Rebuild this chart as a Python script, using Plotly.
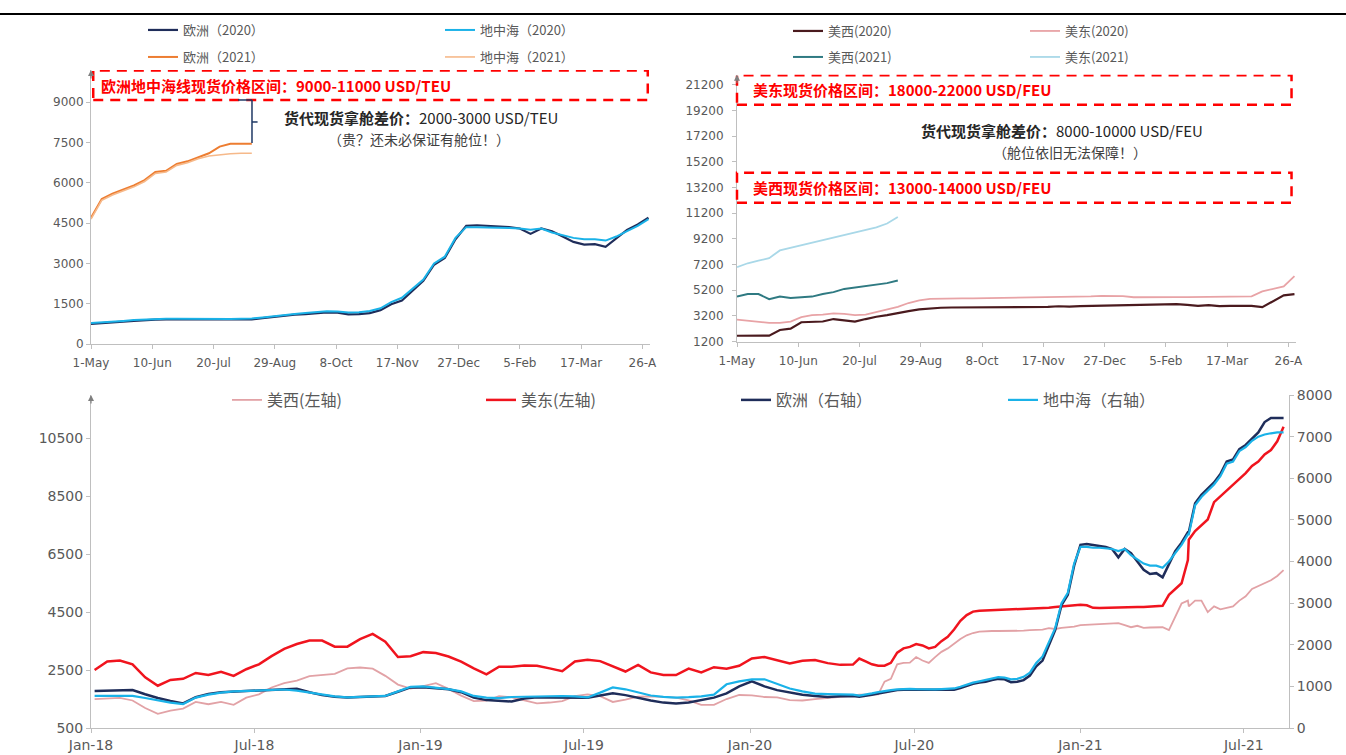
import pandas as pd
import plotly.graph_objects as go

# ---------------- data ----------------
# top charts: weekly, 1-May .. 30-Apr
week_dates = pd.date_range("2020-05-01", periods=53, freq="7D")
dates_2021 = pd.date_range("2021-05-01", periods=16, freq="7D")
top_tickvals = pd.date_range("2020-05-01", periods=10, freq="40D")
top_ticktext = ["1-May", "10-Jun", "20-Jul", "29-Aug", "8-Oct", "17-Nov",
                "27-Dec", "5-Feb", "17-Mar", "26-A"]

eu_2020 = [750, 770, 800, 830, 860, 890, 910, 920, 920, 915,
           905, 905, 905, 910, 910, 920, 960, 1010, 1060, 1090,
           1110, 1150, 1180, 1170, 1100, 1110, 1150, 1260, 1480, 1620,
           2000, 2350, 2950, 3200, 3900, 4400, 4420, 4400, 4380, 4350,
           4300, 4100, 4300, 4200, 4000, 3800, 3700, 3720, 3620, 3950,
           4250, 4450, 4700]
med_2020 = [780, 800, 830, 860, 890, 910, 930, 940, 940, 935,
            930, 930, 930, 935, 940, 950, 990, 1040, 1090, 1120,
            1150, 1190, 1220, 1210, 1170, 1180, 1230, 1330, 1560, 1720,
            2050, 2400, 3000, 3250, 3950, 4350, 4350, 4330, 4330, 4320,
            4300, 4250, 4300, 4150, 4050, 3950, 3900, 3900, 3850, 4000,
            4200, 4400, 4650]
eu_2021 = [4700, 5400, 5600, 5750, 5900, 6100, 6400, 6450, 6700, 6800,
           6950, 7100, 7350, 7450, 7450, 7450]
med_2021 = [4650, 5350, 5550, 5700, 5850, 6050, 6350, 6400, 6650, 6750,
            6900, 7000, 7050, 7080, 7100, 7100]

usw_2020 = [1650, 1650, 1650, 1660, 2100, 2200, 2700, 2750, 2760, 2950,
            2830, 2750, 2950, 3130, 3250, 3420, 3570, 3700, 3780, 3830,
            3850, 3850, 3850, 3850, 3850, 3850, 3860, 3880, 3880, 3900,
            3950, 3920, 3960, 3980, 4000, 4050, 4060, 4080, 4090, 4100,
            4100, 4120, 4050, 3980, 4030, 3960, 3970, 3970, 3980, 3880,
            4350, 4800, 4900]
use_2020 = [2900, 2800, 2700, 2650, 2650, 2750, 3100, 3250, 3300, 3400,
            3350, 3250, 3300, 3500, 3650, 3900, 4200, 4400, 4520, 4550,
            4560, 4560, 4560, 4570, 4580, 4590, 4600, 4610, 4620, 4630,
            4650, 4680, 4700, 4720, 4760, 4760, 4740, 4650, 4640, 4650,
            4650, 4660, 4660, 4670, 4680, 4680, 4690, 4700, 4720, 5100,
            5300, 5500, 6300]
usw_2021 = [4700, 4900, 4900, 4500, 4700, 4600, 4650, 4700, 4900, 5050,
            5300, 5400, 5500, 5600, 5750, 5950]
use_2021 = [7000, 7300, 7500, 7700, 8300, 8500, 8700, 8900, 9100, 9300,
            9550, 9700, 9950, 10100, 10400, 10900]

# bottom chart: history Jan-2018 .. Apr-2020 (biweekly), then the series above
hist_dates = pd.date_range("2018-01-05", periods=61, freq="14D")
hist_use = [2500, 2800, 2830, 2700, 2250, 1960, 2160, 2200, 2400, 2330,
            2440, 2300, 2530, 2700, 2980, 3230, 3400, 3520, 3520, 3310,
            3310, 3570, 3750, 3480, 2950, 2980, 3120, 3090, 2970, 2790,
            2560, 2350, 2614, 2614, 2660, 2650, 2560, 2460, 2800, 2860,
            2810, 2640, 2450, 2680, 2420, 2330, 2330, 2550, 2420, 2600,
            2550, 2650, 2900, 2950, 2830, 2730, 2820, 2850, 2740, 2680,
            2690]
hist_usw = [1500, 1520, 1540, 1450, 1190, 990, 1100, 1170, 1400, 1320,
            1400, 1300, 1550, 1660, 1900, 2050, 2140, 2290, 2330, 2370,
            2560, 2590, 2550, 2300, 2000, 1860, 1950, 2050, 1850, 1620,
            1430, 1450, 1600, 1560, 1450, 1350, 1380, 1430, 1600, 1660,
            1600, 1400, 1480, 1580, 1590, 1570, 1550, 1450, 1300, 1300,
            1500, 1640, 1630, 1570, 1560, 1460, 1450, 1500, 1550, 1580,
            1620]
hist_eu = [890, 900, 913, 913, 810, 720, 650, 590, 740, 820,
           860, 875, 888, 900, 920, 935, 945, 860, 790, 750,
           730, 745, 755, 770, 870, 975, 980, 960, 930, 860,
           730, 670, 645, 635, 710, 740, 735, 730, 730, 729,
           780, 833, 790, 720, 660, 610, 590, 612, 670, 730,
           830, 1000, 1120, 1000, 910, 850, 800, 770, 745, 760,
           770]
hist_med = [770, 770, 775, 770, 720, 660, 610, 575, 730, 800,
            850, 880, 895, 905, 920, 925, 900, 850, 800, 760,
            735, 745, 755, 770, 880, 990, 1000, 970, 935, 880,
            770, 730, 720, 745, 755, 760, 765, 769, 760, 735,
            850, 975, 930, 850, 780, 750, 730, 740, 760, 800,
            1050, 1120, 1169, 1169, 1050, 950, 880, 825, 815, 809,
            800]

bottom_dates = list(hist_dates) + list(week_dates) + list(dates_2021)
bottom_usw = hist_usw + usw_2020 + usw_2021
bottom_use = hist_use + use_2020 + use_2021
bottom_eu = hist_eu + eu_2020 + eu_2021
bottom_med = hist_med + med_2020 + med_2021

# ---------------- style ----------------
W, H = 1346, 755
CJK = "Noto Sans CJK SC"
NUM = "DejaVu Sans"
GREY = "#595959"
AXIS = "#BFBFBF"
RED = "#FF0000"
NAVY = "#1F2D5A"
CYAN = "#1AB2E8"

fig = go.Figure()
legends = {}
counter = [0]

def add(x, y, name, color, width, xa, ya, lx, ly, size=13):
    counter[0] += 1
    key = "legend" if counter[0] == 1 else "legend%d" % counter[0]
    legends[key] = dict(x=(lx - 5) / W, y=1 - ly / H, xanchor="left",
                        yanchor="middle", orientation="h",
                        bgcolor="rgba(0,0,0,0)", itemwidth=30,
                        font=dict(family=CJK, size=size, color=GREY))
    fig.add_trace(go.Scatter(x=x, y=y, name=name, mode="lines",
                             line=dict(color=color, width=width),
                             xaxis=xa, yaxis=ya, legend=key,
                             hoverinfo="x+y+name"))

# top-left
add(week_dates, eu_2020, "欧洲（2020）", NAVY, 2.2, "x", "y", 148, 30)
add(week_dates, med_2020, "地中海（2020）", CYAN, 2.0, "x", "y", 445, 30)
add(week_dates[:16], eu_2021, "欧洲（2021）", "#ED7D31", 2.0, "x", "y", 148, 57)
add(week_dates[:16], med_2021, "地中海（2021）", "#F6B98A", 1.6, "x", "y", 445, 57)
# top-right
add(week_dates, usw_2020, "美西(2020)", "#4A1A1E", 2.2, "x2", "y2", 793, 31)
add(week_dates, use_2020, "美东(2020)", "#E8A3A6", 1.8, "x2", "y2", 1030, 31)
add(week_dates[:16], usw_2021, "美西(2021)", "#2F7A82", 2.0, "x2", "y2", 793, 57)
add(week_dates[:16], use_2021, "美东(2021)", "#A9D8E8", 1.8, "x2", "y2", 1030, 57)
# bottom
add(bottom_dates, bottom_usw, "美西(左轴)", "#E2A2A6", 1.8, "x3", "y3", 232, 400, 16)
add(bottom_dates, bottom_use, "美东(左轴)", "#F0141E", 2.5, "x3", "y3", 486, 400, 16)
add(bottom_dates, bottom_eu, "欧洲（右轴）", NAVY, 2.5, "x3", "y4", 741, 400, 16)
add(bottom_dates, bottom_med, "地中海（右轴）", CYAN, 2.2, "x3", "y4", 1008, 400, 16)

tickfont_top = dict(family=NUM, size=12, color=GREY)
tickfont_bot = dict(family=NUM, size=14, color=GREY)
common_ax = dict(showline=True, linecolor=AXIS, linewidth=1, ticks="outside",
                 ticklen=4, tickcolor=AXIS, showgrid=False, zeroline=False,
                 automargin=False)

fig.update_layout(
    width=W, height=H, margin=dict(l=0, r=0, t=0, b=0, autoexpand=False),
    paper_bgcolor="white", plot_bgcolor="white", showlegend=True,
    xaxis=dict(domain=[91 / W, 650 / W], anchor="y",
               range=["2020-05-01", "2021-05-01"], tickvals=top_tickvals,
               ticktext=top_ticktext, tickfont=tickfont_top,
               ticklabelstandoff=4, **common_ax),
    yaxis=dict(domain=[1 - 344 / H, 1 - 70 / H], anchor="x", range=[0, 10200],
               tick0=0, dtick=1500, tickformat="d", tickfont=tickfont_top,
               **common_ax),
    xaxis2=dict(domain=[737 / W, 1296 / W], anchor="y2",
                range=["2020-05-01", "2021-05-01"], tickvals=top_tickvals,
                ticktext=top_ticktext, tickfont=tickfont_top,
                ticklabelstandoff=4, **common_ax),
    yaxis2=dict(domain=[1 - 341.5 / H, 1 - 74.7 / H], anchor="x2",
                range=[1200, 22000], tick0=1200, dtick=2000, tickformat="d",
                tickfont=tickfont_top, ticklabelstandoff=6, **common_ax),
    xaxis3=dict(domain=[91 / W, 1289 / W], anchor="y3",
                range=["2018-01-01", "2021-08-20"], tick0="2018-01-01",
                dtick="M6", tickformat="%b-%y", tickfont=tickfont_bot, **common_ax),
    yaxis3=dict(domain=[1 - 728 / H, 1 - 395 / H], anchor="x3",
                range=[500, 12000], tick0=500, dtick=2000, tickformat="d",
                tickfont=tickfont_bot, **common_ax),
    yaxis4=dict(overlaying="y3", side="right", anchor="x3", range=[0, 8000],
                tick0=0, dtick=1000, tickformat="d", tickfont=tickfont_bot,
                **common_ax),
    **legends,
)

shapes = []
# header rule
shapes.append(dict(type="line", xref="paper", yref="paper", x0=0, x1=1,
                   y0=1 - 14 / H, y1=1 - 14 / H, line=dict(color="black", width=2)))
DASH = "10px,7px"
# red boxes
shapes.append(dict(type="rect", xref="x domain", yref="y", x0=0.004, x1=0.996,
                   y0=9080, y1=10180, line=dict(color=RED, width=2.5, dash=DASH)))
shapes.append(dict(type="rect", xref="x2 domain", yref="y2", x0=0.0, x1=0.992,
                   y0=19650, y1=21950, line=dict(color=RED, width=2.5, dash=DASH)))
shapes.append(dict(type="rect", xref="x2 domain", yref="y2", x0=0.0, x1=0.992,
                   y0=12020, y1=14360, line=dict(color=RED, width=2.5, dash=DASH)))
# bracket
shapes.append(dict(type="line", xref="x domain", yref="y", x0=0.263, x1=0.288,
                   y0=9084, y1=9084, line=dict(color="#1F3864", width=1.5)))
shapes.append(dict(type="line", xref="x domain", yref="y", x0=0.288, x1=0.288,
                   y0=9084, y1=7483, line=dict(color="#1F3864", width=1.5)))
shapes.append(dict(type="line", xref="x domain", yref="y", x0=0.288, x1=0.298,
                   y0=8265, y1=8265, line=dict(color="#1F3864", width=1.5)))
fig.update_layout(shapes=shapes)

ann = []
def txt(text, xpx, ypx, size, color, anchor="center"):
    ann.append(dict(text=text, x=xpx / W, y=1 - ypx / H, xref="paper", yref="paper",
                    xanchor=anchor, yanchor="middle", showarrow=False,
                    font=dict(family=CJK, size=size, color=color)))

txt("<b>欧洲地中海线现货价格区间：9000-11000 USD/TEU</b>", 99, 86, 15, RED, "left")
txt("<b>货代现货拿舱差价：</b>2000-3000 USD/TEU", 421, 117, 15, "#262626")
txt("（贵？还未必保证有舱位！）", 419, 139, 14, "#404040")
txt("<b>美东现货价格区间：18000-22000 USD/FEU</b>", 751, 90, 15, RED, "left")
txt("<b>美西现货价格区间：13000-14000 USD/FEU</b>", 751, 188, 15, RED, "left")
txt("<b>货代现货拿舱差价：</b>8000-10000 USD/FEU", 1062, 130, 15, "#262626")
txt("（舱位依旧无法保障！）", 1070, 152, 14, "#404040")

# axis arrows
for xr, yr, ytop in [("x domain", "y", 10200), ("x2 domain", "y2", 22000),
                     ("x3 domain", "y3", 12000)]:
    ann.append(dict(x=0, y=ytop, xref=xr, yref=yr, text="", showarrow=True,
                    ax=0, ay=10, axref="pixel", ayref="pixel", arrowhead=2,
                    arrowsize=1, arrowwidth=1.2, arrowcolor="#7F7F7F"))
fig.update_layout(annotations=ann)

fig.write_html("out.html")
